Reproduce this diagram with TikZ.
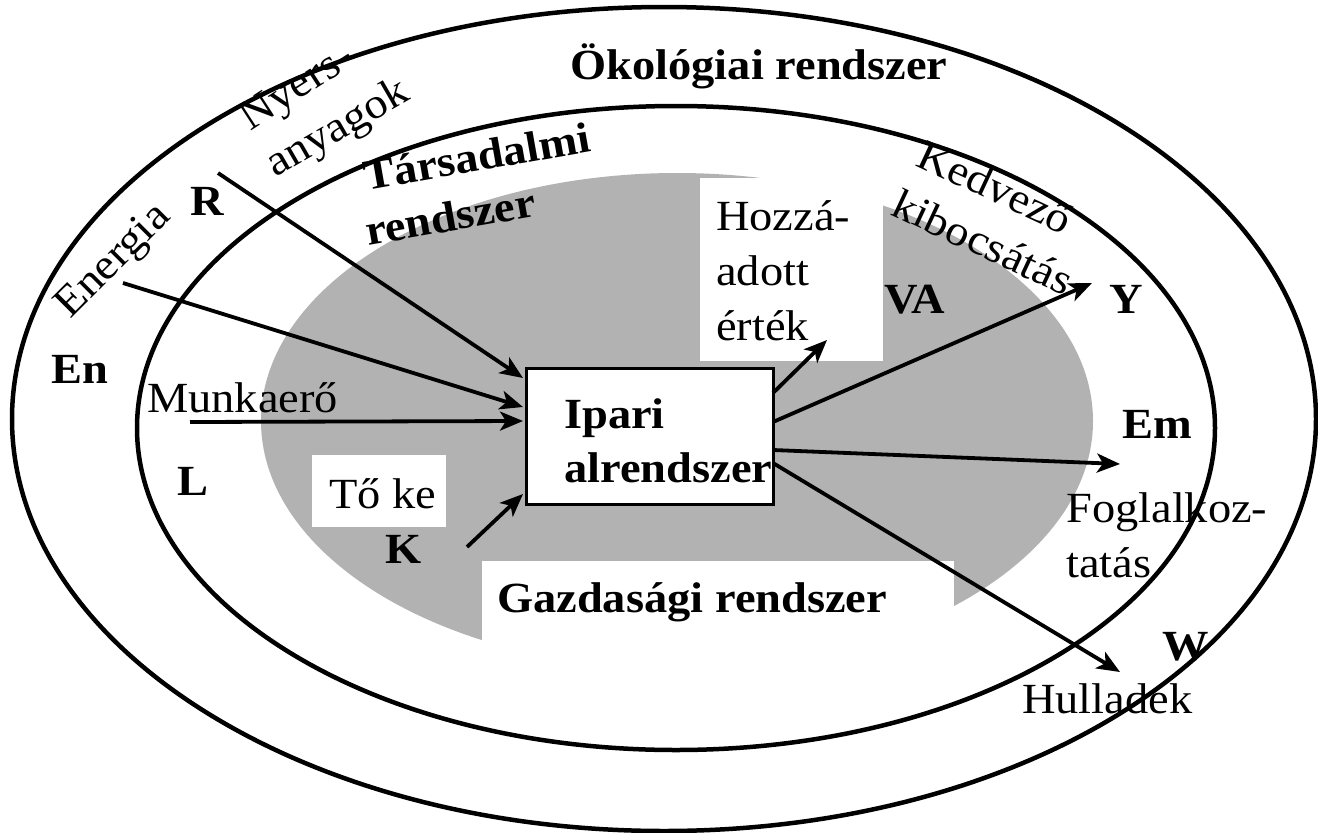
\documentclass[tikz,border=0pt]{standalone}
\usepackage{fontspec}
\setmainfont{Liberation Serif}[FakeStretch=1.08]
\usetikzlibrary{arrows.meta}
\definecolor{econgray}{RGB}{178,178,178}
\begin{document}
\begin{tikzpicture}[x=1pt,y=-1pt,
  lbl/.style={inner sep=0pt,anchor=base west,font=\fontsize{43}{51}\selectfont},
  blbl/.style={lbl,font=\fontsize{43}{51}\selectfont\bfseries},
  sysline/.style={line width=4.5pt},
  arr/.style={line width=3.8pt,-{Stealth[length=23pt,width=19pt,inset=6pt]}},
  patch/.style={fill=white,draw=none}]
\useasboundingbox (0,0) rectangle (1318,833);

% economic system: grey disc with white label patches
\fill[econgray] (677,421) ellipse [x radius=416, y radius=248];
\fill[patch] (700,178) rectangle (883,361);
\fill[patch] (312,455) rectangle (446,527);
\fill[patch] (482,561) rectangle (954,690);

% ecological and social systems
\draw[sysline] (664,419) ellipse [x radius=652, y radius=412];
\draw[sysline] (676,428) ellipse [x radius=539, y radius=322];

% industrial subsystem
\node[draw,line width=2.8pt,fill=white,minimum width=247pt,minimum height=136pt,
      inner sep=0pt,anchor=north west] (ipari) at (525,367) {};

% flow end points
\coordinate (rsrc) at (218,173);   \coordinate (rin)  at (523,378);
\coordinate (ensrc) at (123,283);  \coordinate (enin) at (523,407);
\coordinate (lsrc) at (190,422);   \coordinate (lin)  at (523,421);
\coordinate (ksrc) at (467,547);   \coordinate (kin)  at (523,494);
\coordinate (vaout) at (773,393);  \coordinate (vadst) at (827,340);
\coordinate (yout) at (773,422);   \coordinate (ydst) at (1092,283);
\coordinate (emout) at (773,450);  \coordinate (emdst) at (1120,464);
\coordinate (wout) at (773,463);   \coordinate (wdst) at (1120,672);

% inputs
\draw[arr] (rsrc) -- (rin);
\draw[arr] (ensrc) -- (enin);
\draw[arr] (lsrc) -- (lin);
\draw[arr] (ksrc) -- (kin);
% outputs
\draw[arr] (vaout) -- (vadst);
\draw[arr] (yout) -- (ydst);
\draw[arr] (emout) -- (emdst);
\draw[arr] (wout) -- (wdst);

% system names
\node[blbl,anchor=base] (oko) at (759,79) {Ökológiai rendszer};
\node[blbl,rotate=10] (tars1) at (366,191) {Társadalmi};
\node[blbl,rotate=10] (tars2) at (368,246) {rendszer};
\node[blbl] (gazd) at (497,612) {Gazdasági rendszer};
\node[blbl] (ip1) at (564,428) {Ipari};
\node[blbl] (ip2) at (564,482) {alrendszer};

% input labels
\node[lbl,rotate=33] (nyers1) at (250,132) {Nyers-};
\node[lbl,rotate=30] (nyers2) at (275,178) {anyagok};
\node[blbl,anchor=base] (rlab) at (207,215) {R};
\node[lbl,rotate=45] (energia) at (70,320) {Energia};
\node[blbl] (enlab) at (51,383) {En};
\node[lbl] (munka) at (147,412) {Munkaerő};
\node[blbl] (llab) at (177,495) {L};
\node[lbl] (toke) at (329,508) {Tő ke};
\node[blbl] (klab) at (385,563) {K};

% output labels
\node[lbl] (hoz1) at (716,230) {Hozzá-};
\node[lbl] (hoz2) at (716,285) {adott};
\node[lbl] (hoz3) at (716,340) {érték};
\node[blbl] (valab) at (884,313) {VA};
\node[lbl,rotate=-25] (kedv1) at (914,165) {Kedvező};
\node[lbl,rotate=-25] (kedv2) at (889,214) {kibocsátás};
\node[blbl] (ylab) at (1109,313) {Y};
\node[blbl] (emlab) at (1122,438) {Em};
\node[lbl] (fog1) at (1066,522) {Foglalkoz-};
\node[lbl] (fog2) at (1066,577) {tatás};
\node[blbl] (wlab) at (1162,660) {W};
\node[lbl] (hull) at (1022,713) {Hulladék};
\end{tikzpicture}
\end{document}
